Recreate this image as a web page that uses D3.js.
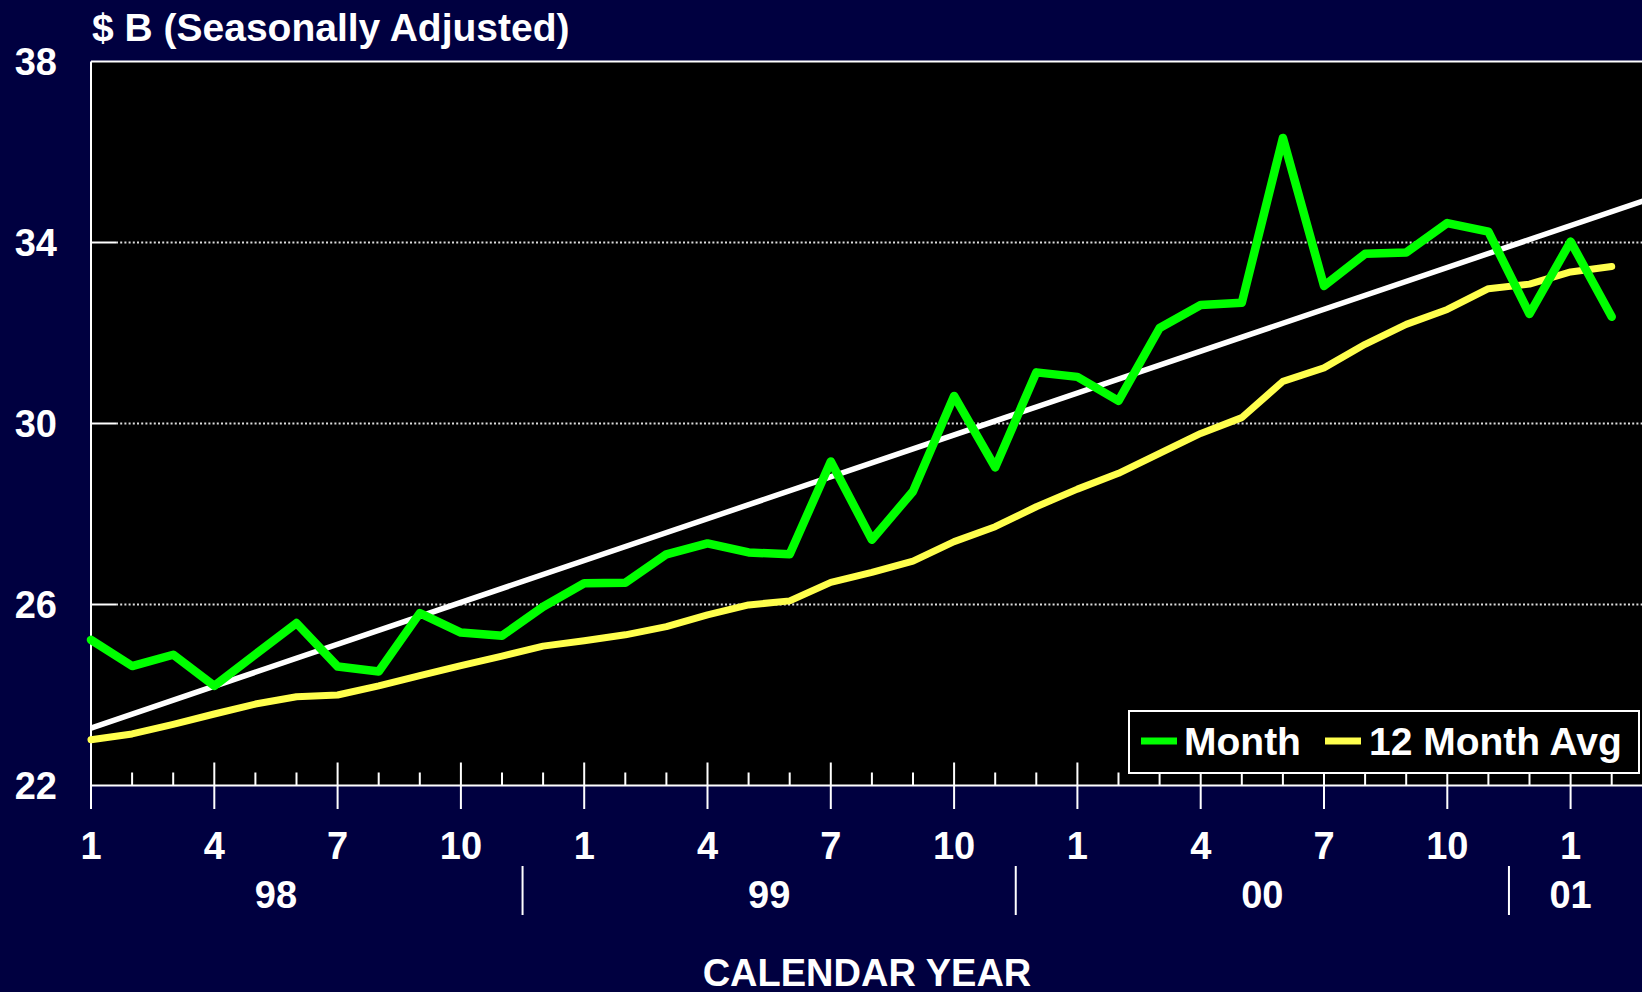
<!DOCTYPE html>
<html>
<head>
<meta charset="utf-8">
<script src="https://cdn.jsdelivr.net/npm/d3@7"></script>
<style>
  html, body { margin: 0; padding: 0; background: #000040; overflow: hidden; }
  svg { display: block; }
  text { font-family: "Liberation Sans", Arial, sans-serif; font-weight: bold; fill: #fff; }
</style>
</head>
<body>
<div id="chart"></div>
<script>
// monthly values, Jan 98 .. Feb 01 ($ B, seasonally adjusted)
var monthValues = [25.22, 24.64, 24.89, 24.20, 24.90, 25.59, 24.63, 24.52, 25.81, 25.38, 25.31, 25.95,
                   26.47, 26.48, 27.11, 27.35, 27.15, 27.11, 29.16, 27.43, 28.50, 30.61, 29.03, 31.13,
                   31.03, 30.50, 32.11, 32.62, 32.67, 36.31, 33.04, 33.75, 33.78, 34.43, 34.24, 32.42,
                   34.02, 32.36];
var avgValues = [23.01, 23.14, 23.35, 23.58, 23.80, 23.96, 24.00, 24.20, 24.43, 24.65, 24.86, 25.08,
                 25.20, 25.33, 25.51, 25.77, 25.99, 26.08, 26.49, 26.71, 26.96, 27.39, 27.72, 28.16,
                 28.55, 28.90, 29.34, 29.78, 30.13, 30.93, 31.23, 31.75, 32.19, 32.52, 32.98, 33.08,
                 33.35, 33.47];
// straight trend line (start / end)
var trendMonths = [0, 38];
var trendValues = [23.27, 34.99];

var yTicks = [22, 26, 30, 34, 38];
var majorMonths = [0, 3, 6, 9, 12, 15, 18, 21, 24, 27, 30, 33, 36];
var majorLabels = ["1", "4", "7", "10", "1", "4", "7", "10", "1", "4", "7", "10", "1"];
var yearLabels = ["98", "99", "00", "01"];
var yearCenters = [4.5, 16.5, 28.5, 36];
var yearBreaks = [10.5, 22.5, 34.5];

var W = 1642, H = 992;
var plotLeft = 91, plotTop = 61.5, plotBottom = 785.5;

var svg = d3.select("#chart").append("svg")
  .attr("width", W).attr("height", H);

svg.append("rect").attr("width", W).attr("height", H).attr("fill", "#000040");

var x = d3.scaleLinear().domain([0, 38]).range([plotLeft, plotLeft + 38 * 41.1]);
var y = d3.scaleLinear().domain([22, 38]).range([plotBottom, plotTop]);

// plot area
svg.append("rect")
  .attr("x", plotLeft).attr("y", plotTop)
  .attr("width", W - plotLeft + 20).attr("height", plotBottom - plotTop)
  .attr("fill", "#000");

// dotted gridlines with short solid ticks
var inner = yTicks.filter(function(d) { return d > 22 && d < 38; });
svg.selectAll("grid").data(inner).enter().append("line")
  .attr("x1", plotLeft + 25).attr("x2", W)
  .attr("y1", function(d) { return y(d); }).attr("y2", function(d) { return y(d); })
  .attr("stroke", "#ddd").attr("stroke-width", 2).attr("stroke-dasharray", "2,2.2");
svg.selectAll("ytick").data(inner).enter().append("line")
  .attr("x1", plotLeft).attr("x2", plotLeft + 25)
  .attr("y1", function(d) { return y(d); }).attr("y2", function(d) { return y(d); })
  .attr("stroke", "#fff").attr("stroke-width", 2);

// y labels
svg.selectAll("ylab").data(yTicks).enter().append("text")
  .attr("x", 57).attr("y", function(d) { return y(d) + 13.5; })
  .attr("text-anchor", "end").attr("font-size", 38)
  .text(function(d) { return d; });

// minor and major month ticks
var allMonths = d3.range(0, 38);
svg.selectAll("minor").data(allMonths.filter(function(m) { return m % 3 != 0; })).enter().append("line")
  .attr("x1", function(d) { return x(d); }).attr("x2", function(d) { return x(d); })
  .attr("y1", plotBottom - 13).attr("y2", plotBottom)
  .attr("stroke", "#fff").attr("stroke-width", 2);
svg.selectAll("major").data(majorMonths).enter().append("line")
  .attr("x1", function(d) { return x(d); }).attr("x2", function(d) { return x(d); })
  .attr("y1", plotBottom - 23).attr("y2", 809)
  .attr("stroke", "#fff").attr("stroke-width", 2);

// frame: top, left, bottom axis
svg.append("line").attr("x1", plotLeft).attr("x2", W).attr("y1", plotTop).attr("y2", plotTop)
  .attr("stroke", "#fff").attr("stroke-width", 2);
svg.append("line").attr("x1", plotLeft).attr("x2", plotLeft).attr("y1", plotTop).attr("y2", 809)
  .attr("stroke", "#fff").attr("stroke-width", 2);
svg.append("line").attr("x1", plotLeft).attr("x2", W).attr("y1", plotBottom).attr("y2", plotBottom)
  .attr("stroke", "#fff").attr("stroke-width", 2);

// month labels
svg.selectAll("mlab").data(majorMonths).enter().append("text")
  .attr("x", function(d) { return x(d); }).attr("y", 859)
  .attr("text-anchor", "middle").attr("font-size", 38)
  .text(function(d, i) { return majorLabels[i]; });

// year labels and separators
svg.selectAll("ylabel").data(yearLabels).enter().append("text")
  .attr("x", function(d, i) { return x(yearCenters[i]); }).attr("y", 908)
  .attr("text-anchor", "middle").attr("font-size", 38)
  .text(function(d) { return d; });
svg.selectAll("sep").data(yearBreaks).enter().append("line")
  .attr("x1", function(d) { return x(d); }).attr("x2", function(d) { return x(d); })
  .attr("y1", 866).attr("y2", 915)
  .attr("stroke", "#fff").attr("stroke-width", 2);

// trend line
svg.append("path")
  .datum(trendMonths)
  .attr("fill", "none").attr("stroke", "#fff").attr("stroke-width", 5.5)
  .attr("d", d3.line()
    .x(function(d) { return x(d); })
    .y(function(d, i) { return y(trendValues[i]); }));

// 12 month average
svg.append("path")
  .datum(avgValues)
  .attr("fill", "none").attr("stroke", "#ffff4d").attr("stroke-width", 7)
  .attr("stroke-linejoin", "round").attr("stroke-linecap", "round")
  .attr("d", d3.line()
    .x(function(d, i) { return x(i); })
    .y(function(d) { return y(d); }));

// monthly
svg.append("path")
  .datum(monthValues)
  .attr("fill", "none").attr("stroke", "#00ff00").attr("stroke-width", 8.5)
  .attr("stroke-linejoin", "round").attr("stroke-linecap", "round")
  .attr("d", d3.line()
    .x(function(d, i) { return x(i); })
    .y(function(d) { return y(d); }));

// legend
var lg = svg.append("g");
lg.append("rect")
  .attr("x", 1129).attr("y", 711).attr("width", 510).attr("height", 62)
  .attr("fill", "#000").attr("stroke", "#fff").attr("stroke-width", 2);
lg.append("line").attr("x1", 1141).attr("x2", 1177).attr("y1", 741).attr("y2", 741)
  .attr("stroke", "#00ff00").attr("stroke-width", 7);
lg.append("text").attr("x", 1184).attr("y", 755).attr("font-size", 39).text("Month");
lg.append("line").attr("x1", 1325).attr("x2", 1361).attr("y1", 741).attr("y2", 741)
  .attr("stroke", "#ffff4d").attr("stroke-width", 7);
lg.append("text").attr("x", 1369).attr("y", 755).attr("font-size", 39).text("12 Month Avg");

// titles
svg.append("text").attr("x", 92).attr("y", 41).attr("font-size", 39)
  .text("$ B (Seasonally Adjusted)");
svg.append("text").attr("x", 867).attr("y", 986).attr("text-anchor", "middle")
  .attr("font-size", 38).text("CALENDAR YEAR");
</script>
</body>
</html>
